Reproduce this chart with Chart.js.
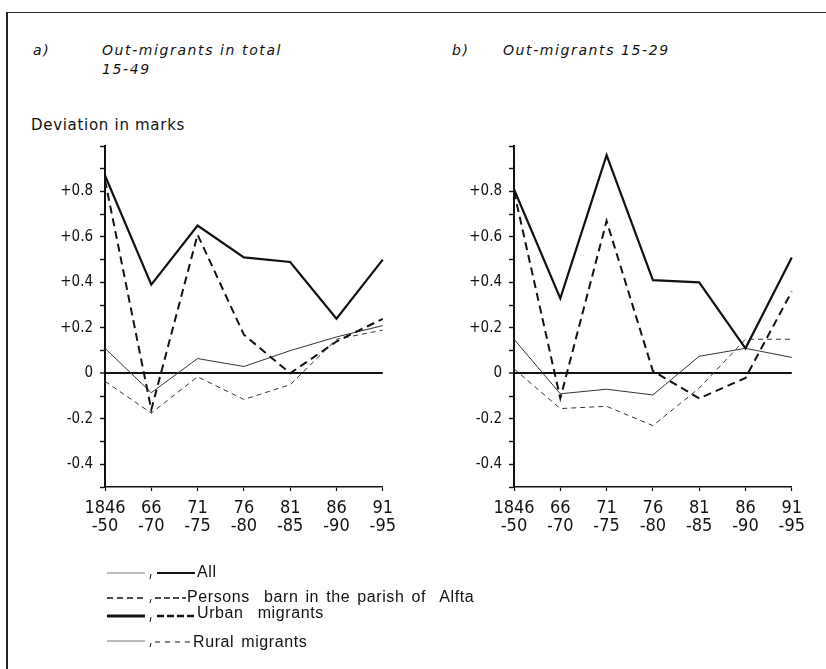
<!DOCTYPE html>
<html>
<head>
<meta charset="utf-8">
<script src="https://cdn.jsdelivr.net/npm/chart.js@4/dist/chart.umd.min.js"></script>
<style>
  body { margin:0; background:#fff; width:826px; height:669px; position:relative; overflow:hidden; }
  .frame { position:absolute; left:6px; top:12px; width:840px; height:680px; border-left:2px solid #222; border-top:1.5px solid #333; }
  .t { position:absolute; color:#111; white-space:pre; }
  .ttl { font-family:'DejaVu Sans', sans-serif; font-style:italic; font-size:14px; letter-spacing:1.6px; }
  .lg { font-family:'Liberation Sans', Arial, sans-serif; font-size:16px; letter-spacing:0.6px; word-spacing:2px; }
  canvas { position:absolute; }
</style>
</head>
<body>
<div class="frame"></div>
<div class="t ttl" style="left:33px;top:42px;">a)</div>
<div class="t ttl" style="left:102px;top:42px;">Out-migrants in total</div>
<div class="t ttl" style="left:102px;top:61px;">15-49</div>
<div class="t ttl" style="left:452px;top:42px;">b)</div>
<div class="t ttl" style="left:503px;top:42px;">Out-migrants 15-29</div>
<div class="t" style="left:31px;top:116px;font-family:'DejaVu Sans',sans-serif;font-size:15px;letter-spacing:0.7px;">Deviation in marks</div>

<div style="position:absolute;left:40px;top:130px;width:364px;height:415px;"><canvas id="chartA"></canvas></div>
<div style="position:absolute;left:449px;top:130px;width:364px;height:415px;"><canvas id="chartB"></canvas></div>

<svg style="position:absolute;left:0;top:0" width="826" height="669">
  <g stroke="#111" fill="none">
    <line x1="107" y1="573" x2="145" y2="573" stroke-width="1" stroke="#777"/>
    <line x1="157" y1="573" x2="195" y2="573" stroke-width="1.8"/>
    <line x1="107" y1="598" x2="145" y2="598" stroke-width="1.6" stroke-dasharray="6,4"/>
    <line x1="155" y1="598" x2="186" y2="598" stroke-width="1.4" stroke-dasharray="6,3"/>
    <line x1="107" y1="616" x2="145" y2="616" stroke-width="3"/>
    <line x1="157" y1="616" x2="194" y2="616" stroke-width="2.6" stroke-dasharray="7,3"/>
    <line x1="107" y1="641" x2="145" y2="641" stroke-width="1" stroke="#777"/>
    <line x1="155" y1="642" x2="190" y2="642" stroke-width="1.2" stroke-dasharray="5,5"/>
    <line x1="151" y1="574" x2="150" y2="579" stroke-width="1"/>
    <line x1="151" y1="599" x2="150" y2="603" stroke-width="1"/>
    <line x1="151" y1="617" x2="150" y2="622" stroke-width="1"/>
    <line x1="151" y1="643" x2="150" y2="647" stroke-width="1"/>
  </g>
</svg>
<div class="t lg" style="left:197px;top:563px;">All</div>
<div class="t lg" style="left:187px;top:588px;">Persons  barn in the parish of  Alfta</div>
<div class="t lg" style="left:197px;top:604px;">Urban  migrants</div>
<div class="t lg" style="left:193px;top:633px;">Rural migrants</div>

<script>
// five-year periods
var periods = [['1846','-50'],['66','-70'],['71','-75'],['76','-80'],['81','-85'],['86','-90'],['91','-95']]
var yLabelled = [-4,-2,0,2,4,6,8]   // tenths that get a tick label

// a) out-migrants in total 15-49
var thickSolidA  = [0.87, 0.39, 0.65, 0.51, 0.49, 0.24, 0.50]
var thickDashedA = [0.85, -0.16, 0.61, 0.17, 0.00, 0.14, 0.24]
var thinSolidA   = [0.11, -0.085, 0.065, 0.03, 0.10, 0.16, 0.21]
var thinDashedA  = [-0.035, -0.175, -0.015, -0.115, -0.05, 0.15, 0.19]

// b) out-migrants 15-29
var thickSolidB  = [0.81, 0.33, 0.96, 0.41, 0.40, 0.11, 0.51]
var thickDashedB = [0.80, -0.11, 0.67, 0.01, -0.11, -0.02, 0.36]
var thinSolidB   = [0.15, -0.09, -0.07, -0.095, 0.075, 0.11, 0.07]
var thinDashedB  = [0.02, -0.155, -0.145, -0.23, -0.065, 0.15, 0.15]

function tenth(v){ return Math.round(v*10) }

function lineSet(label, data, width, dash, color){
  return {
    label: label,
    data: data,
    borderColor: color || '#111',
    borderWidth: width,
    borderDash: dash,
    pointRadius: 0,
    tension: 0,
    fill: false
  }
}

function plot(id, s1, s2, s3, s4){
  var ctx = document.getElementById(id).getContext('2d')
  return new Chart(ctx, {
    type: 'line',
    data: {
      labels: periods,
      datasets: [
        lineSet('Urban migrants', s1, 2.2, []),
        lineSet('Persons born in the parish of Alfta', s2, 2, [8,5]),
        lineSet('All', s3, 1, [], '#333'),
        lineSet('Rural migrants', s4, 1, [5,4], '#333')
      ]
    },
    options: {
      responsive: true,
      maintainAspectRatio: false,
      animation: false,
      layout: { padding: { top: 8, right: 20, left: 0, bottom: 0 } },
      plugins: { legend: { display: false }, tooltip: { enabled: false } },
      scales: {
        x: {
          offset: false,
          afterFit: function(s){ s.height = 58 },
          grid: { drawOnChartArea: false, tickLength: 4, color: '#111', tickWidth: 1.2 },
          border: { display: true, color: '#111', width: 1.6 },
          ticks: {
            maxRotation: 0, autoSkip: false, padding: 8, color: '#111',
            font: { family: "'Liberation Sans Narrow', 'DejaVu Sans Condensed', sans-serif", size: 18, lineHeight: 1.0 }
          }
        },
        y: {
          min: -0.5, max: 1.0,
          afterFit: function(s){ s.width = 65 },
          grid: {
            drawOnChartArea: true,
            tickLength: 5,
            tickColor: '#111',
            tickWidth: 1.4,
            color: function(c){ return tenth(c.tick.value) === 0 ? '#111' : 'rgba(0,0,0,0)' },
            lineWidth: function(c){ return tenth(c.tick.value) === 0 ? 2 : 1 }
          },
          border: { display: true, color: '#111', width: 2 },
          ticks: {
            stepSize: 0.1, padding: 7, color: '#111',
            font: { family: "'DejaVu Sans Condensed', sans-serif", size: 15 },
            callback: function(v){
              var t = tenth(v)
              if(yLabelled.indexOf(t) < 0) return ''
              if(t === 0) return '0'
              return (t > 0 ? '+' : '-') + '0.' + Math.abs(t)
            }
          }
        }
      }
    }
  })
}

plot('chartA', thickSolidA, thickDashedA, thinSolidA, thinDashedA)
plot('chartB', thickSolidB, thickDashedB, thinSolidB, thinDashedB)
</script>
</body>
</html>
